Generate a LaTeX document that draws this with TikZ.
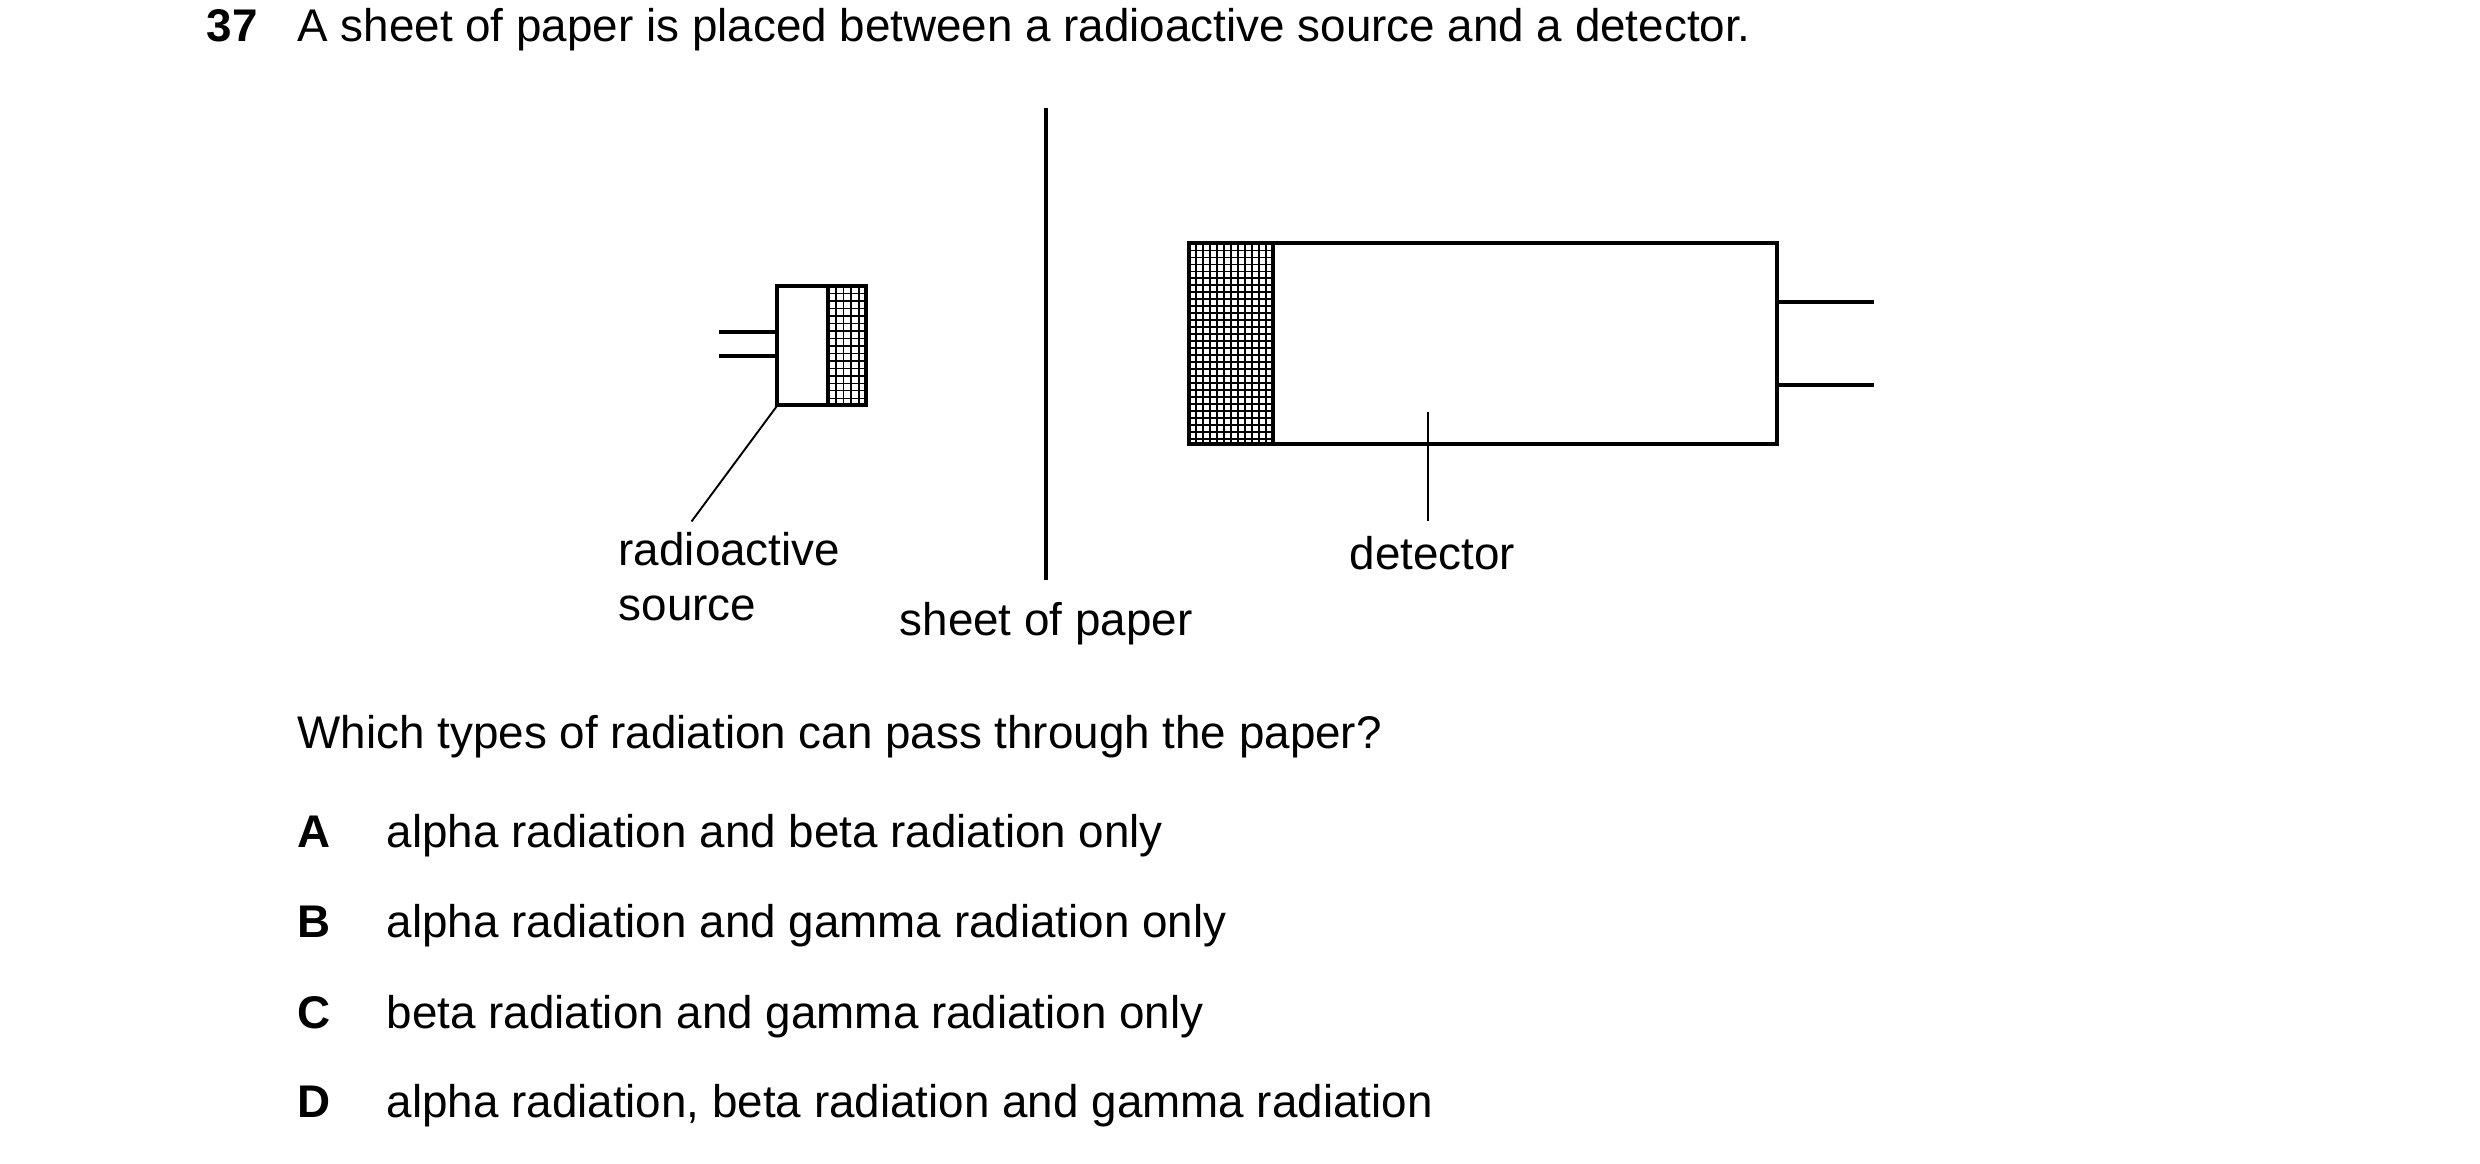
\documentclass[tikz,border=0pt]{standalone}
\usepackage{fontspec}
\setmainfont{Liberation Sans}
\begin{document}
\begin{tikzpicture}[x=1pt,y=-1pt,
  txt/.style={inner sep=0pt,font=\fontsize{28.8}{32}\selectfont,anchor=base west},
  lbl/.style={inner sep=0pt,font=\fontsize{28.8}{32}\selectfont,anchor=base},
  thick box/.style={line width=2.5pt},
  hatch/.style={line width=0.9pt}]
\useasboundingbox (0,0) rectangle (1560,731.6);
\node[txt] (num) at (130,26) {\bfseries 37};
\node[txt] (title) at (187,26) {A sheet of paper is placed between a radioactive source and a detector.};
% paper
\draw[line width=3pt] (658,68) coordinate (p1) -- (658,365) coordinate (p2);
% source
\foreach \x in {521,525.8,...,545} \draw[hatch] (\x,180) -- (\x,255);
\foreach \y in {180,184.7,...,255} \draw[hatch] (521,\y) -- (545,\y);
\draw[thick box] (489,180) rectangle (545,255);
\draw[thick box] (521,180) -- (521,255);
\draw[thick box] (452,209) -- (489,209);
\draw[thick box] (452,224) -- (489,224);
\coordinate (sc) at (489,255);
\coordinate (sl) at (435,328);
\draw[line width=1.2pt] (sc) -- (sl);
% detector
\foreach \x in {748,752.4,...,801} \draw[hatch] (\x,153) -- (\x,279);
\foreach \y in {153,157.4,...,279} \draw[hatch] (748,\y) -- (801,\y);
\draw[thick box] (748,153) rectangle (1118,279);
\draw[thick box] (801,153) -- (801,279);
\draw[thick box] (1118,190) -- (1179,190);
\draw[thick box] (1118,242) -- (1179,242);
\coordinate (dc) at (898,259);
\coordinate (dl) at (898,328);
\draw[line width=1.2pt] (dc) -- (dl);
% labels
\node[txt] (ra) at (389,356) {radioactive};
\node[txt] (so) at (389,390) {source};
\node[lbl] (sp) at (658,400) {sheet of paper};
\node[lbl] (de) at (901,358) {detector};
% question
\node[txt] (q) at (187,471) {Which types of radiation can pass through the paper?};
\node[txt] (la) at (187,533) {\bfseries A};
\node[txt] (ta) at (243,533) {alpha radiation and beta radiation only};
\node[txt] (lb) at (187,590) {\bfseries B};
\node[txt] (tb) at (243,590) {alpha radiation and gamma radiation only};
\node[txt] (lc) at (187,647) {\bfseries C};
\node[txt] (tc) at (243,647) {beta radiation and gamma radiation only};
\node[txt] (ld) at (187,703) {\bfseries D};
\node[txt] (td) at (243,703) {alpha radiation, beta radiation and gamma radiation};
\end{tikzpicture}
\end{document}
